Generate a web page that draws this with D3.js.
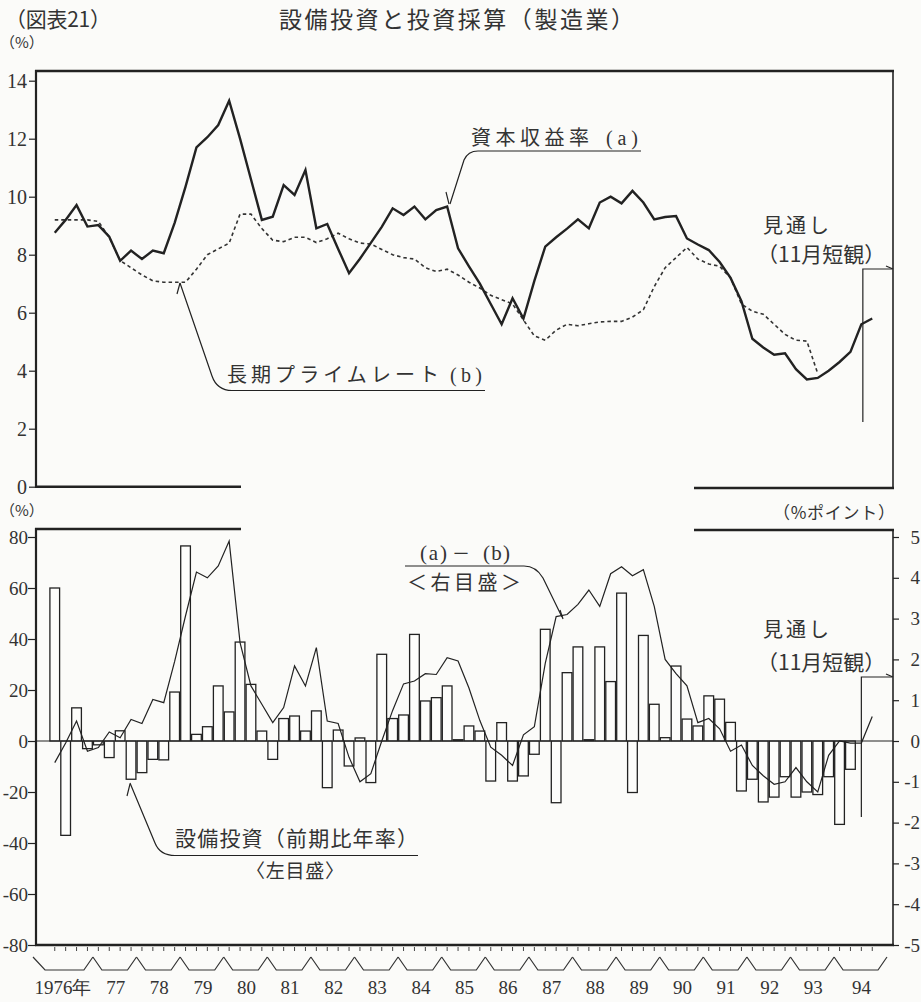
<!DOCTYPE html>
<html><head><meta charset="utf-8">
<script src="https://cdn.jsdelivr.net/npm/d3@7"></script>
<style>
body{margin:0;background:#fbfbf9;}
svg{display:block;}
</style></head><body>
<svg id="c" width="921" height="1002"></svg>
<script>
// ---------------- data ----------------
const years = ['1976','1977','1978','1979','1980','1981','1982','1983','1984','1985','1986','1987','1988','1989','1990','1991','1992','1993','1994'];
const yearLabels = ['1976年','77','78','79','80','81','82','83','84','85','86','87','88','89','90','91','92','93','94'];
const qNames = ['Q1','Q2','Q3','Q4'];
const quarters = years.flatMap(y => qNames.map(q => y + q));

// 資本収益率 (a), %
const capitalReturn = [8.76,9.2,9.71,8.97,9.02,8.62,7.79,8.14,7.85,8.14,8.05,9.1,10.35,11.7,12.05,12.47,13.31,12.0,10.6,9.2,
  9.31,10.4,10.06,10.92,8.91,9.06,8.2,7.36,7.86,8.41,8.96,9.6,9.37,9.66,9.22,9.54,9.66,8.22,7.6,7.0,
  6.3,5.6,6.5,5.8,7.1,8.28,8.6,8.9,9.22,8.91,9.8,10.0,9.77,10.2,9.8,9.22,9.3,9.33,8.56,8.35,
  8.16,7.75,7.2,6.4,5.1,4.8,4.55,4.6,4.05,3.7,3.75,4.0,4.3,4.65,5.6,5.8];
// 長期プライムレート (b), %
const primeRate = [9.2,9.2,9.2,9.2,9.15,8.6,7.8,7.55,7.3,7.1,7.05,7.05,7.05,7.5,8.0,8.2,8.4,9.4,9.4,8.9,
  8.5,8.45,8.6,8.6,8.42,8.55,8.74,8.55,8.4,8.37,8.18,8.0,7.9,7.85,7.55,7.42,7.5,7.3,7.05,6.85,
  6.6,6.45,6.3,5.75,5.2,5.05,5.4,5.6,5.55,5.62,5.68,5.7,5.7,5.85,6.1,6.9,7.55,7.9,8.25,7.85,
  7.68,7.6,7.2,6.3,6.05,5.95,5.6,5.25,5.05,5.02,3.9];
// (a)-(b), %ポイント (right scale)
const spread = [-0.53,-0.05,0.49,-0.25,-0.16,0.22,0.08,0.53,0.43,1.02,0.94,1.95,3.07,4.14,4.0,4.29,4.9,2.41,1.35,0.9,
  0.45,0.82,1.84,1.35,2.29,0.49,0.43,-0.4,-1.0,-0.8,0.0,0.75,1.4,1.47,1.65,1.63,2.04,1.96,1.3,0.5,
  -0.15,-0.35,-0.6,0.15,0.35,1.9,3.05,3.1,3.35,3.7,3.3,4.1,4.27,4.05,4.2,3.3,2.0,1.65,1.35,0.45,
  0.55,0.3,-0.25,-0.1,-0.6,-0.85,-1.06,-1.0,-0.65,-1.0,-1.25,-0.35,0.0,-0.05,-0.05,0.6];
// 設備投資 (前期比年率), % (left scale)
const capex = [60,-37,13,-3,-1.5,-6.5,4,-15,-12.4,-7.2,-7.4,19.2,76.5,2.6,5.6,21.6,11.4,38.8,22.2,3.9,
  -7.2,8.8,9.8,3.9,11.8,-18.3,4.3,-9.8,1.2,-16.3,34,8.8,10.2,41.8,15.7,17,21.6,0.5,5.9,3.9,
  -15.7,7.2,-15.7,-13.7,-5.2,43.8,-24.2,26.8,36.9,0.5,36.9,23.3,58,-20.2,41.4,14.4,1.3,29.4,8.6,5.9,
  17.7,16.4,7.3,-19.6,-15,-23.9,-22,-14,-22,-20,-21,-14,-32.7,-11.1];

const topTicks = [0,2,4,6,8,10,12,14];
const leftTicks = [-80,-60,-40,-20,0,20,40,60,80];
const rightTicks = [-5,-4,-3,-2,-1,0,1,2,3,4,5];

// ---------------- layout ----------------
const svg = d3.select('#c');
const ink = '#222';
const txt = '#333';
const serif = '"Liberation Serif","DejaVu Serif",serif';
const jp = '"Noto Sans CJK JP","Noto Sans",sans-serif';
const fmt = d => String(d);

const L = 36, R = 893;
const x = d3.scaleBand().domain(quarters).range([49.3, 49.3 + quarters.length * 10.9]).padding(0);
const bw = x.bandwidth();
const cx = i => x(quarters[i]) + bw / 2;

const yTop = d3.scaleLinear().domain([0, 14]).range([486.7, 80.7]);
const yL = d3.scaleLinear().domain([-80, 80]).range([945, 537]);
const yR = d3.scaleLinear().domain([-5, 5]).range([945, 537]);

function label(xp, yp, s, font, size, len, anchor) {
  const t = svg.append('text').attr('x', xp).attr('y', yp).attr('font-family', font)
    .attr('font-size', size).attr('fill', txt).text(s);
  if (len) t.attr('textLength', len).attr('lengthAdjust', 'spacing');
  if (anchor) t.attr('text-anchor', anchor);
  return t;
}

// titles
label(5, 27, '（図表21）', jp, 21, 106);
label(279, 28, '設備投資と投資採算（製造業）', jp, 23, 355);
label(0, 48, '（%）', jp, 15);
label(0, 516, '（%）', jp, 15);
label(773, 519, '（%ポイント）', jp, 17, 122);

// ---------------- top panel ----------------
const gTop = svg.append('g');
gTop.append('line').attr('x1', L - 1).attr('x2', R + 1).attr('y1', 71).attr('y2', 71).attr('stroke', ink).attr('stroke-width', 2.6);
gTop.append('line').attr('x1', L).attr('x2', L).attr('y1', 70).attr('y2', 488).attr('stroke', ink).attr('stroke-width', 2.2);
gTop.append('line').attr('x1', R).attr('x2', R).attr('y1', 70).attr('y2', 489).attr('stroke', ink).attr('stroke-width', 1.6);
gTop.append('line').attr('x1', L).attr('x2', 241).attr('y1', yTop(0)).attr('y2', yTop(0)).attr('stroke', ink).attr('stroke-width', 2.4);
gTop.append('line').attr('x1', 694).attr('x2', R + 1).attr('y1', 488).attr('y2', 488).attr('stroke', ink).attr('stroke-width', 2.4);

const axTop = gTop.append('g').attr('transform', `translate(${L},0)`)
  .call(d3.axisLeft(yTop).tickValues(topTicks).tickSize(7).tickPadding(2).tickFormat(fmt));
axTop.select('.domain').remove();
axTop.selectAll('line').attr('stroke', ink).attr('stroke-width', 1.2);
axTop.selectAll('text').attr('font-family', serif).attr('font-size', 20).attr('fill', txt);

const lineTop = d3.line().defined(d => d != null).x((d, i) => cx(i)).y(d => yTop(d));
gTop.append('path').datum(primeRate).attr('d', lineTop).attr('fill', 'none')
  .attr('stroke', '#333').attr('stroke-width', 1.6).attr('stroke-dasharray', '3.5,3');
gTop.append('path').datum(capitalReturn).attr('d', lineTop).attr('fill', 'none')
  .attr('stroke', ink).attr('stroke-width', 2.4).attr('stroke-linejoin', 'miter');

// annotations (top)
const ann = svg.append('g').attr('fill', 'none').attr('stroke', ink).attr('stroke-width', 1.2);
label(471, 145, '資本収益率', jp, 20, 118);
label(606, 145, '(a)', serif, 20, 32);
ann.append('path').attr('d', 'M641,151 H478 Q468,151 464,160 L450,204');
ann.append('path').attr('d', 'M446,192 L449,204');

label(227, 382, '長期プライムレート', jp, 20, 212);
label(450, 382, '(b)', serif, 20, 32);
ann.append('path').attr('d', 'M485,390.5 H232 Q217,390.5 212,376 L180,283');
ann.append('path').attr('d', 'M177,294 L180,283');

label(763, 233, '見通し', jp, 20, 66);
label(757, 262, '（11月短観）', jp, 21);
ann.append('path').attr('d', `M${cx(74) + 1.5},422 V269 H${R - 1}`);
ann.append('path').attr('d', `M${R - 7},266 L${R},269`);

// ---------------- bottom panel ----------------
const gB = svg.append('g');
gB.append('line').attr('x1', L - 1).attr('x2', 241).attr('y1', 529).attr('y2', 529).attr('stroke', ink).attr('stroke-width', 2.4);
gB.append('line').attr('x1', 694).attr('x2', R + 1).attr('y1', 530).attr('y2', 530).attr('stroke', ink).attr('stroke-width', 2.4);
gB.append('line').attr('x1', L).attr('x2', L).attr('y1', 528).attr('y2', 946).attr('stroke', ink).attr('stroke-width', 2.2);
gB.append('line').attr('x1', R).attr('x2', R).attr('y1', 529).attr('y2', 946).attr('stroke', ink).attr('stroke-width', 1.6);
gB.append('line').attr('x1', L - 1).attr('x2', R + 1).attr('y1', 945).attr('y2', 945).attr('stroke', ink).attr('stroke-width', 2.4);

const axL = gB.append('g').attr('transform', `translate(${L},0)`)
  .call(d3.axisLeft(yL).tickValues(leftTicks).tickSize(8).tickPadding(0).tickFormat(fmt));
axL.select('.domain').remove();
axL.selectAll('line').attr('stroke', ink).attr('stroke-width', 1.2);
axL.selectAll('text').attr('font-family', serif).attr('font-size', 19).attr('fill', txt);

const axR = gB.append('g').attr('transform', `translate(${R},0)`)
  .call(d3.axisRight(yR).tickValues(rightTicks).tickSize(6).tickPadding(0).tickFormat(fmt));
axR.select('.domain').remove();
axR.selectAll('line').attr('stroke', ink).attr('stroke-width', 1.2);
axR.selectAll('text').attr('font-family', serif).attr('font-size', 19).attr('fill', txt)
  .attr('text-anchor', 'end').attr('x', 27);

// bars
gB.append('g').selectAll('rect').data(capex).join('rect')
  .attr('x', (d, i) => x(quarters[i]) + 0.6)
  .attr('width', bw - 1.2)
  .attr('y', d => Math.min(yL(d), yL(0)))
  .attr('height', d => Math.abs(yL(d) - yL(0)))
  .attr('fill', '#fdfdfb').attr('stroke', ink).attr('stroke-width', 1.3);

gB.append('line').attr('x1', L).attr('x2', R).attr('y1', yL(0)).attr('y2', yL(0)).attr('stroke', ink).attr('stroke-width', 1.2);

const lineR = d3.line().x((d, i) => cx(i)).y(d => yR(d));
gB.append('path').datum(spread).attr('d', lineR).attr('fill', 'none').attr('stroke', ink).attr('stroke-width', 1.2);

// bottom annotations
label(420, 560, '(a)', serif, 21, 27);
label(452, 560, '－', jp, 18);
label(483, 560, '(b)', serif, 21, 27);
label(407, 590, '＜右目盛＞', jp, 20, 114);
ann.append('path').attr('d', 'M405,566 H524 Q536,566 543,578 L562,617');
ann.append('path').attr('d', 'M560,610 L563,619');

label(175, 846, '設備投資（前期比年率）', jp, 21, 243);
label(246, 878, '〈左目盛〉', jp, 19, 98);
ann.append('path').attr('d', 'M418,855.5 H175 Q160,855.5 155,843 L130,783');
ann.append('path').attr('d', 'M127,796 L130,784');

label(763, 637, '見通し', jp, 20, 66);
label(757, 670, '（11月短観）', jp, 21);
ann.append('path').attr('d', `M${cx(74)},817 V677 H${R - 1}`);
ann.append('path').attr('d', `M${R - 7},674 L${R},677`);

// quarter ticks below axis
gB.append('g').selectAll('line').data(quarters).join('line')
  .attr('x1', d => x(d) + bw / 2).attr('x2', d => x(d) + bw / 2)
  .attr('y1', 947).attr('y2', 951).attr('stroke', '#444').attr('stroke-width', 1);

// year brackets
const yb = gB.append('g').attr('fill', 'none').attr('stroke', '#333').attr('stroke-width', 1.2);
years.forEach((yv, k) => {
  let sx = x(yv + 'Q1'), ex = sx + 4 * bw;
  if (k === 0) sx = 33;
  if (k === years.length - 1) ex = 887;
  const a = (k === 0) ? 12 : 9;
  yb.append('path').attr('d', `M${sx},957 L${sx + a},970 H${ex - 9} L${ex},957`);
  label((sx + ex) / 2 + (k === 0 ? 0 : 1), 994, yearLabels[k], serif, 19, null, 'middle');
});
</script>
</body></html>
